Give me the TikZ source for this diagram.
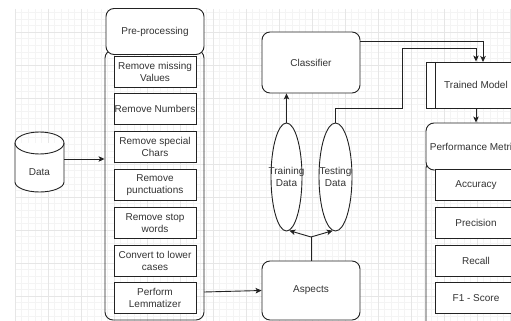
\documentclass[tikz,border=0pt]{standalone}
\usepackage{fontspec}
\setmainfont{Liberation Sans}
\usetikzlibrary{shapes.geometric,arrows.meta}
\definecolor{txt}{HTML}{333333}
\definecolor{lnc}{HTML}{222222}
\definecolor{gmin}{HTML}{F4F4F4}
\definecolor{gmaj}{HTML}{E6E6E6}
\begin{document}
\begin{tikzpicture}[x=1pt,y=-1pt,
  font=\fontsize{10}{12}\selectfont, text=txt,
  edge/.style={draw=lnc, line width=0.9pt},
  box/.style={edge, fill=white, minimum width=82pt, minimum height=31pt, align=center, inner sep=0pt},
  hdr/.style={edge, fill=white, rounded corners=8pt, minimum width=98pt, minimum height=46pt, align=center, inner sep=0pt},
  cont/.style={edge, rounded corners=8pt, inner sep=0pt},
  ell/.style={edge, ellipse, fill=white, inner sep=0pt},
  arr/.style={edge, -{Stealth[length=6pt,width=5.5pt,inset=1.5pt]}}]
\useasboundingbox (0,0) rectangle (511,321);
\clip (0,0) rectangle (511,321);
% grid
\foreach \i in {0,...,75} {\draw[gmin, line width=0.5pt] (15+\i*6.6,9) -- (15+\i*6.6,321);}
\foreach \i in {-3,...,43} {\draw[gmin, line width=0.5pt] (15,32+\i*6.6) -- (511,32+\i*6.6);}
\foreach \i in {0,...,15} {\draw[gmaj, line width=0.6pt] (15+\i*33,9) -- (15+\i*33,321);}
\foreach \i in {0,...,9} {\draw[gmaj, line width=0.6pt] (15,32+\i*33) -- (511,32+\i*33);}
% data cylinder
\draw[edge, fill=white] (15,143) -- (15,182) arc[start angle=180, end angle=360, x radius=24.5pt, y radius=10pt] -- (64,143);
\draw[edge] (39.5,143) ellipse[x radius=24.5pt, y radius=11pt];
\node (data) at (39.5,172) {Data};
\coordinate (dataR) at (64,159);
% pre-processing
\node[cont, minimum width=99pt, minimum height=270pt] (prec) at (154.5,185) {};
\node[hdr] (pre) at (155,31.5) {Pre-processing};
\node[box] (b1) at (155,71.5) {Remove missing\\Values};
\node[box] (b2) at (155,109.3) {Remove Numbers};
\node[box] (b3) at (155,147.1) {Remove special\\Chars};
\node[box] (b4) at (155,184.9) {Remove\\punctuations};
\node[box] (b5) at (155,222.7) {Remove stop\\words};
\node[box] (b6) at (155,260.5) {Convert to lower\\cases};
\node[box] (b7) at (155,298.3) {Perform\\Lemmatizer};
\coordinate (lemR) at (204,292);
% middle
\node[hdr, minimum height=61pt] (cls) at (311,62.5) {Classifier};
\node[hdr, minimum height=59pt] (asp) at (311,290.5) {Aspects};
\node[ell, minimum width=31pt, minimum height=108pt] (tr) at (286.5,177) {};
\node[ell, minimum width=33pt, minimum height=108pt] (te) at (335.5,177) {};
\node[align=center, inner sep=0pt] (trl) at (tr.center) {Training\\Data};
\node[align=center, inner sep=0pt] (tel) at (te.center) {Testing\\Data};
\coordinate (jn) at (311,237);
% right
\node[edge, fill=white, minimum width=100pt, minimum height=46pt, inner sep=0pt] (tm) at (476,85) {Trained Model};
\draw[edge] (435,62) -- (435,108);
\node[cont, minimum width=100pt, minimum height=180pt] (pmc) at (476,250) {};
\node[hdr, minimum width=100pt, minimum height=47pt] (pm) at (476,146.5) {Performance Metrics};
\node[box] (m1) at (476,184.9) {Accuracy};
\node[box] (m2) at (476,222.7) {Precision};
\node[box] (m3) at (476,260.5) {Recall};
\node[box] (m4) at (476,298.3) {F1 - Score};
% connectors
\draw[arr] (dataR) -- (dataR -| prec.west);
\draw[arr] (lemR) -- (asp.west);
\draw[arr] (tr.north) -- (tr.north |- cls.south);
\draw[edge] (asp.north) -- (jn);
\draw[arr] (jn) -- (tr.-87);
\draw[arr] (jn) -- (te.-93);
\coordinate (clsR) at (360,41);
\draw[arr] (clsR) -- (483,41) -- (483,62);
\draw[arr] (te.north) -- (335.5,108) -- (402,108) -- (402,48) -- (476,48) -- (tm.north);
\draw[arr] (tm.south) -- (pm.north);
\end{tikzpicture}
\end{document}
